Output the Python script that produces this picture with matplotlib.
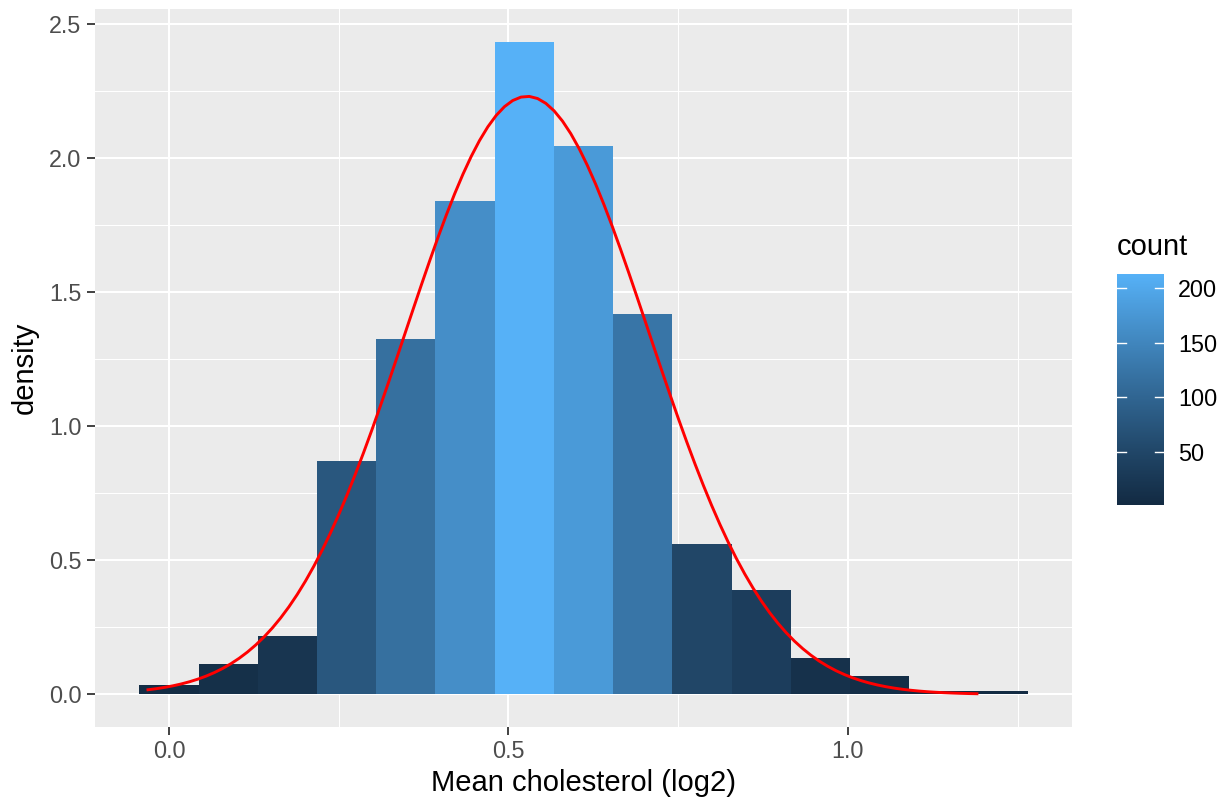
import numpy as np
import matplotlib
matplotlib.use("Agg")
import matplotlib.pyplot as plt
from matplotlib.colors import ListedColormap, Normalize, to_rgb

plt.rcParams["font.family"] = ["Liberation Sans", "DejaVu Sans"]

# Histogram of mean cholesterol (log2): 15 bins over the observed range
data_min = -0.031
data_max = 1.190
n_bins = 15
counts = [3, 10, 19, 76, 116, 161, 213, 179, 124, 49, 34, 12, 6, 1, 1]

# Fitted normal curve
fit_mean = 0.5275
fit_sd = 0.179

x_breaks = [0.0, 0.5, 1.0]
x_labels = ["0.0", "0.5", "1.0"]
y_breaks = [0.0, 0.5, 1.0, 1.5, 2.0, 2.5]
y_labels = ["0.0", "0.5", "1.0", "1.5", "2.0", "2.5"]
legend_breaks = [50, 100, 150, 200]

LOW, HIGH = "#132B43", "#56B1F7"


# --- Lab colour interpolation (as used by continuous gradient fills) ---
def _srgb_to_lab(c):
    rgb = np.array(to_rgb(c))
    lin = np.where(rgb <= 0.04045, rgb / 12.92, ((rgb + 0.055) / 1.055) ** 2.4)
    M = np.array([[0.4124564, 0.3575761, 0.1804375],
                  [0.2126729, 0.7151522, 0.0721750],
                  [0.0193339, 0.1191920, 0.9503041]])
    xyz = M @ lin
    white = np.array([0.95047, 1.0, 1.08883])
    t = xyz / white
    f = np.where(t > (6 / 29) ** 3, np.cbrt(t), t / (3 * (6 / 29) ** 2) + 4 / 29)
    return np.array([116 * f[1] - 16, 500 * (f[0] - f[1]), 200 * (f[1] - f[2])])


def _lab_to_srgb(lab):
    L, a, b = lab
    fy = (L + 16) / 116
    fx = fy + a / 500
    fz = fy - b / 200
    f = np.array([fx, fy, fz])
    t = np.where(f > 6 / 29, f ** 3, 3 * (6 / 29) ** 2 * (f - 4 / 29))
    xyz = t * np.array([0.95047, 1.0, 1.08883])
    Minv = np.array([[3.2404542, -1.5371385, -0.4985314],
                     [-0.9692660, 1.8760108, 0.0415560],
                     [0.0556434, -0.2040259, 1.0572252]])
    lin = np.clip(Minv @ xyz, 0, 1)
    rgb = np.where(lin <= 0.0031308, 12.92 * lin, 1.055 * lin ** (1 / 2.4) - 0.055)
    return np.clip(rgb, 0, 1)


lab_lo, lab_hi = _srgb_to_lab(LOW), _srgb_to_lab(HIGH)
ramp = [_lab_to_srgb(lab_lo + (lab_hi - lab_lo) * s) for s in np.linspace(0, 1, 256)]
cmap = ListedColormap(ramp)

# --- Binning ---
counts = np.array(counts, dtype=float)
width = (data_max - data_min) / (n_bins - 1)
boundary = width / 2
shift = np.floor((data_min - boundary) / width)
origin = boundary + shift * width
edges = origin + width * np.arange(n_bins + 1)
density = counts / (counts.sum() * width)
norm = Normalize(vmin=counts.min(), vmax=counts.max())

# --- Figure ---
W, H = 1228, 801
fig = plt.figure(figsize=(W / 100, H / 100), dpi=100)
fig.patch.set_facecolor("white")
ax = fig.add_axes([95 / W, 1 - 727 / H, (1072 - 95) / W, (727 - 9) / H])
ax.set_facecolor("#EBEBEB")
for s in ax.spines.values():
    s.set_visible(False)

xlo, xhi = edges[0], edges[-1]
xpad = (xhi - xlo) * 0.05
ax.set_xlim(xlo - xpad, xhi + xpad)
ymax = density.max()
ax.set_ylim(-0.05 * ymax, ymax * 1.05)

# grid
for v in [-0.25, 0.25, 0.75, 1.25]:
    ax.axvline(v, color="white", lw=0.75, zorder=0.5)
for v in np.arange(0.25, 2.6, 0.5):
    ax.axhline(v, color="white", lw=0.75, zorder=0.5)
for v in x_breaks:
    ax.axvline(v, color="white", lw=1.5, zorder=0.6)
for v in y_breaks:
    ax.axhline(v, color="white", lw=1.5, zorder=0.6)

ax.bar(edges[:-1], density, width=width, align="edge",
       color=cmap(norm(counts)), linewidth=0, zorder=2)

xs = np.linspace(data_min, data_max, 101)
ys = np.exp(-0.5 * ((xs - fit_mean) / fit_sd) ** 2) / (fit_sd * np.sqrt(2 * np.pi))
ax.plot(xs, ys, color="red", lw=2.1, zorder=3)

ax.set_xticks(x_breaks)
ax.set_xticklabels(x_labels)
ax.set_yticks(y_breaks)
ax.set_yticklabels(y_labels)
ax.tick_params(axis="both", length=5.5, width=1.3, color="#333333",
               labelcolor="#4D4D4D", labelsize=16.8, pad=4.2)
ax.set_xlabel("Mean cholesterol (log2)", fontsize=21, color="black", labelpad=4)
ax.set_ylabel("density", fontsize=21, color="black", labelpad=7)

# --- Colour bar legend ---
cax = fig.add_axes([1117 / W, 1 - 505 / H, (1164 - 1117) / W, (505 - 274) / H])
grad = np.linspace(norm.vmin, norm.vmax, 300).reshape(-1, 1)
cax.imshow(grad, aspect="auto", cmap=cmap, norm=norm, origin="lower",
           extent=[0, 1, norm.vmin, norm.vmax], interpolation="bilinear")
cax.set_xlim(0, 1)
cax.set_ylim(norm.vmin, norm.vmax)
for s in cax.spines.values():
    s.set_visible(False)
cax.set_xticks([])
cax.yaxis.tick_right()
cax.set_yticks(legend_breaks)
cax.set_yticklabels([str(b) for b in legend_breaks])
cax.tick_params(axis="y", length=0, pad=10, labelsize=16.8, labelcolor="black")
for b in legend_breaks:
    cax.plot([0, 0.2], [b, b], color="white", lw=1.0)
    cax.plot([0.8, 1.0], [b, b], color="white", lw=1.0)
fig.text(1117 / W, 1 - 255 / H, "count", fontsize=21, color="black",
         ha="left", va="baseline")

fig.savefig("out.png", dpi=100)
